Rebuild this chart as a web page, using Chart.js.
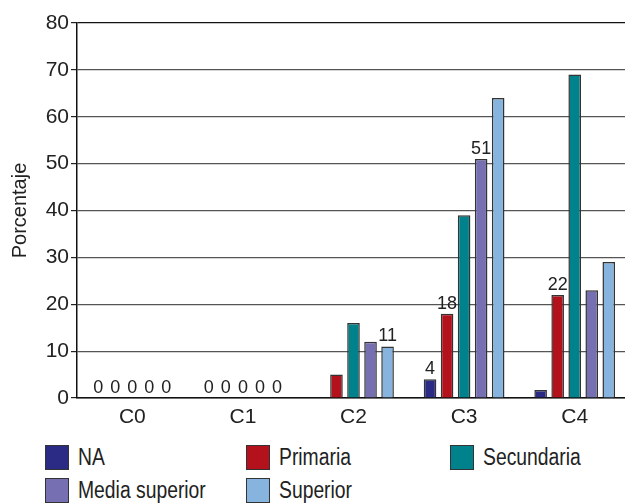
<!DOCTYPE html>
<html>
<head>
<meta charset="utf-8">
<script src="https://cdn.jsdelivr.net/npm/chart.js@4/dist/chart.umd.min.js"></script>
<style>
  html, body { margin: 0; padding: 0; background: #fff; overflow: hidden; width: 625px; height: 504px; }
  #wrap { position: absolute; left: 0; top: 0; width: 634px; height: 440px; }
  #legend { position: absolute; left: 45px; top: 445px; display: grid;
            grid-template-columns: 201px 204px auto; grid-auto-rows: 33px;
            font-family: "Liberation Sans", Arial, sans-serif;
            font-size: 23px; color: #222; }
  .item { display: flex; align-items: center; height: 25px; }
  .box { width: 22px; height: 23px; border: 1.5px solid #333; margin-right: 9px; flex: none; }
  .txt { display: inline-block; white-space: nowrap; transform: scaleX(0.84); transform-origin: left center; }
</style>
</head>
<body>
<div id="wrap"><canvas id="c" width="634" height="440"></canvas></div>
<div id="legend"></div>
<script>
// Education level share (%) by category
const categories = ['C0', 'C1', 'C2', 'C3', 'C4'];
const seriesNames = ['NA', 'Primaria', 'Secundaria', 'Media superior', 'Superior'];

const na            = [0, 0, 0, 4, 1.7];
const primaria      = [0, 0, 5, 18, 22];
const secundaria    = [0, 0, 16, 39, 69];
const mediaSuperior = [0, 0, 12, 51, 23];
const superior      = [0, 0, 11, 64, 29];

// which bars carry a printed value
const naShown            = [true, true, false, true, false];
const primariaShown      = [true, true, false, true, true];
const secundariaShown    = [true, true, false, false, false];
const mediaSuperiorShown = [true, true, false, true, false];
const superiorShown      = [true, true, true, false, false];

const yTicks = [0, 10, 20, 30, 40, 50, 60, 70, 80];

const colors = ['#2b2b86', '#b3121c', '#00828c', '#7670b3', '#87b4de'];
const values = [na, primaria, secundaria, mediaSuperior, superior];
const shown = [naShown, primariaShown, secundariaShown, mediaSuperiorShown, superiorShown];

const FONT = '"Liberation Sans", Arial, sans-serif';
Chart.defaults.font.family = FONT;
Chart.defaults.color = '#222';

const valueLabels = {
  id: 'valueLabels',
  afterDatasetsDraw(chart) {
    const ctx = chart.ctx;
    ctx.save();
    ctx.font = '18px ' + FONT;
    ctx.fillStyle = '#222';
    ctx.textAlign = 'center';
    ctx.textBaseline = 'alphabetic';
    chart.data.datasets.forEach((ds, i) => {
      const meta = chart.getDatasetMeta(i);
      meta.data.forEach((el, j) => {
        if (!shown[i][j]) return;
        ctx.fillText(String(ds.data[j]), el.x, el.y - 5);
      });
    });
    ctx.restore();
  }
};

const chart = new Chart(document.getElementById('c'), {
  type: 'bar',
  data: {
    labels: categories,
    datasets: seriesNames.map((name, i) => ({
      label: name,
      data: values[i],
      backgroundColor: colors[i],
      borderColor: '#333',
      borderWidth: 1.5,
      categoryPercentage: 0.77,
      barPercentage: 0.74
    }))
  },
  options: {
    responsive: false,
    devicePixelRatio: 1,
    animation: false,
    layout: { padding: { top: 23, right: 4, left: 0, bottom: 0 } },
    plugins: { legend: { display: false }, tooltip: { enabled: false } },
    scales: {
      x: {
        z: 1,
        grid: { display: false },
        border: { display: true, color: '#111', width: 1.5 },
        ticks: { font: { size: 21 }, color: '#222', padding: -1 },
        afterFit(s) { s.height = 42; }
      },
      y: {
        min: 0, max: 80,
        afterBuildTicks(s) { s.ticks = yTicks.map(v => ({ value: v })); },
        ticks: { font: { size: 21 }, color: '#222', padding: 2 },
        grid: {
          color: c => (c.tick && c.tick.value === 80 ? '#111' : '#555'),
          lineWidth: 1.2,
          tickLength: 6,
          tickColor: '#222'
        },
        border: { display: true, color: '#111', width: 1.5 },
        title: { display: true, text: 'Porcentaje', font: { size: 20 }, color: '#222', padding: { top: 8, bottom: 0 } },
        afterFit(s) { s.width = 77; }
      }
    }
  },
  plugins: [valueLabels]
});

// legend built from the chart's datasets
const legend = document.getElementById('legend');
chart.data.datasets.forEach(ds => {
  const item = document.createElement('div');
  item.className = 'item';
  const box = document.createElement('span');
  box.className = 'box';
  box.style.background = ds.backgroundColor;
  const txt = document.createElement('span');
  txt.className = 'txt';
  txt.textContent = ds.label;
  item.appendChild(box);
  item.appendChild(txt);
  legend.appendChild(item);
});
</script>
</body>
</html>
